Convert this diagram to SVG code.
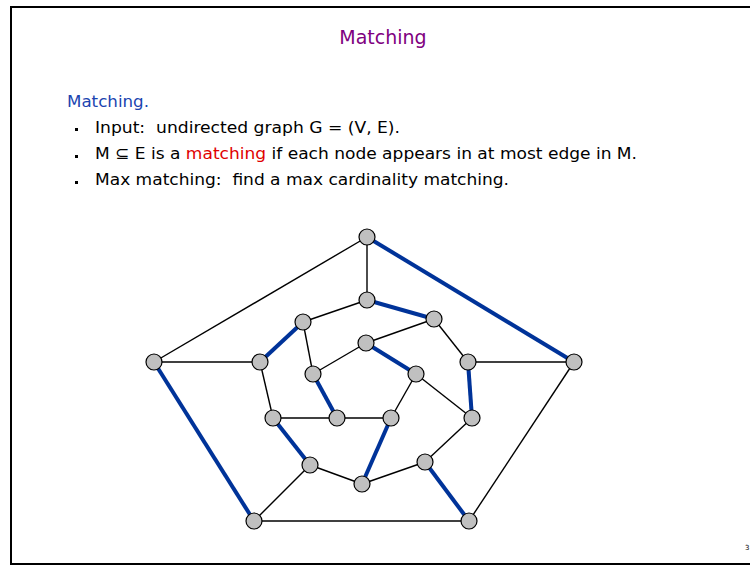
<svg xmlns="http://www.w3.org/2000/svg" width="750" height="565" viewBox="0 0 750 565">
<style>
.t{font-family:"DejaVu Sans","Liberation Sans",sans-serif;}
.body{font-size:16px;fill:#000;}
.e{stroke:#000;stroke-width:1.4;fill:none;}
.m{stroke:#003399;stroke-width:4;fill:none;}
.n{fill:#c0c0c0;stroke:#000;stroke-width:1.2;}
</style>
<rect width="750" height="565" fill="#fff"/>
<path d="M750 7 H11 V564 H750" fill="none" stroke="#000" stroke-width="2"/>
<text class="t" x="383" y="44" font-size="19" fill="#800080" text-anchor="middle">Matching</text>
<text class="t" x="67" y="107" font-size="16" fill="#1a44b0" textLength="82" lengthAdjust="spacingAndGlyphs">Matching.</text>
<rect x="75" y="128" width="3" height="3" fill="#000"/>
<rect x="75" y="155" width="3" height="3" fill="#000"/>
<rect x="75" y="181" width="3" height="3" fill="#000"/>
<text class="t body" x="95" y="133" xml:space="preserve" textLength="305" lengthAdjust="spacingAndGlyphs">Input:  undirected graph G = (V, E).</text>
<text class="t body" x="95" y="159" xml:space="preserve" textLength="542" lengthAdjust="spacingAndGlyphs">M ⊆ E is a <tspan fill="#e00000">matching</tspan> if each node appears in at most edge in M.</text>
<text class="t body" x="95" y="185" xml:space="preserve" textLength="414" lengthAdjust="spacingAndGlyphs">Max matching:  find a max cardinality matching.</text>
<text class="t" x="745" y="550" font-size="7" fill="#000">3</text>
<g id="connectors">
<line class="e" x1="367" y1="237" x2="154" y2="362"/>
<line class="m" x1="367" y1="237" x2="574" y2="362"/>
<line class="m" x1="154" y1="362" x2="254" y2="521"/>
<line class="e" x1="254" y1="521" x2="469" y2="521"/>
<line class="e" x1="469" y1="521" x2="574" y2="362"/>
<line class="e" x1="367" y1="237" x2="367" y2="300"/>
<line class="e" x1="154" y1="362" x2="260" y2="362"/>
<line class="e" x1="574" y1="362" x2="468" y2="362"/>
<line class="e" x1="254" y1="521" x2="310" y2="465"/>
<line class="m" x1="469" y1="521" x2="425" y2="462"/>
<line class="m" x1="367" y1="300" x2="434" y2="319"/>
<line class="e" x1="434" y1="319" x2="468" y2="362"/>
<line class="m" x1="468" y1="362" x2="472" y2="418"/>
<line class="e" x1="472" y1="418" x2="425" y2="462"/>
<line class="e" x1="425" y1="462" x2="362" y2="484"/>
<line class="e" x1="362" y1="484" x2="310" y2="465"/>
<line class="m" x1="310" y1="465" x2="273" y2="418"/>
<line class="e" x1="273" y1="418" x2="260" y2="362"/>
<line class="m" x1="260" y1="362" x2="303" y2="322"/>
<line class="e" x1="303" y1="322" x2="367" y2="300"/>
<line class="e" x1="303" y1="322" x2="313" y2="374"/>
<line class="e" x1="434" y1="319" x2="366" y2="343"/>
<line class="e" x1="472" y1="418" x2="416" y2="374"/>
<line class="m" x1="391" y1="418" x2="362" y2="484"/>
<line class="e" x1="273" y1="418" x2="337" y2="418"/>
<line class="m" x1="366" y1="343" x2="416" y2="374"/>
<line class="e" x1="416" y1="374" x2="391" y2="418"/>
<line class="e" x1="391" y1="418" x2="337" y2="418"/>
<line class="m" x1="337" y1="418" x2="313" y2="374"/>
<line class="e" x1="313" y1="374" x2="366" y2="343"/>
</g>
<g id="n1"><circle class="n" cx="367" cy="237" r="8"/></g>
<g id="n2"><circle class="n" cx="154" cy="362" r="8"/></g>
<g id="n3"><circle class="n" cx="574" cy="362" r="8"/></g>
<g id="n4"><circle class="n" cx="254" cy="521" r="8"/></g>
<g id="n5"><circle class="n" cx="469" cy="521" r="8"/></g>
<g id="n6"><circle class="n" cx="367" cy="300" r="8"/></g>
<g id="n7"><circle class="n" cx="434" cy="319" r="8"/></g>
<g id="n8"><circle class="n" cx="468" cy="362" r="8"/></g>
<g id="n9"><circle class="n" cx="472" cy="418" r="8"/></g>
<g id="n10"><circle class="n" cx="425" cy="462" r="8"/></g>
<g id="n11"><circle class="n" cx="362" cy="484" r="8"/></g>
<g id="n12"><circle class="n" cx="310" cy="465" r="8"/></g>
<g id="n13"><circle class="n" cx="273" cy="418" r="8"/></g>
<g id="n14"><circle class="n" cx="260" cy="362" r="8"/></g>
<g id="n15"><circle class="n" cx="303" cy="322" r="8"/></g>
<g id="n16"><circle class="n" cx="366" cy="343" r="8"/></g>
<g id="n17"><circle class="n" cx="416" cy="374" r="8"/></g>
<g id="n18"><circle class="n" cx="391" cy="418" r="8"/></g>
<g id="n19"><circle class="n" cx="337" cy="418" r="8"/></g>
<g id="n20"><circle class="n" cx="313" cy="374" r="8"/></g>
</svg>
